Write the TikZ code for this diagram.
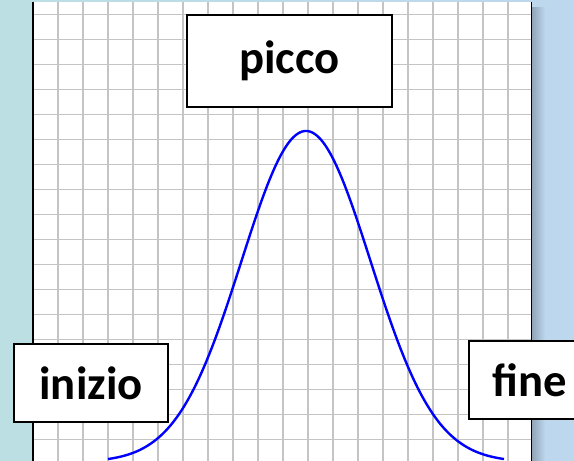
\documentclass[tikz,border=0pt]{standalone}
\usepackage{fontspec}
\setmainfont{Carlito}
\usetikzlibrary{positioning}

\definecolor{bgleft}{RGB}{188,223,227}
\definecolor{bgright}{RGB}{189,215,238}
\definecolor{gridgray}{RGB}{196,196,196}

\begin{document}
\begin{tikzpicture}[
  x=0.75pt, y=-0.75pt,
  every node/.style={font=\bfseries\fontsize{35}{42}\selectfont},
  lbl/.style={draw=black, line width=1.4pt, fill=white, inner sep=0pt},
  gridline/.style={draw=gridgray, line width=0.9pt},
  bell/.style={draw=blue, line width=1.8pt},
]
\useasboundingbox (0,0) rectangle (574,460);
\clip (0,0) rectangle (574,460);
% background and sheet
\shade[left color=bgleft, right color=bgright] (0,0) rectangle (574,460);
\shade[left color=black!25!bgright, right color=bgright] (531,8) rectangle (545,460);
\fill[white] (33,2) rectangle (531.5,470);
\foreach \gx in {58,83,...,508}
  \draw[gridline] (\gx,2) -- (\gx,470);
\foreach \gy in {14.3,39.3,...,464.3}
  \draw[gridline] (33,\gy) -- (531.5,\gy);
\draw[line width=1pt] (33,2) -- (33,470);
\draw[line width=1pt] (531.5,2) -- (531.5,470);
% curve
\draw[bell] plot[domain=108:504, samples=140, smooth]
  (\x, {462-331*exp(-((\x-306)/100)^2/0.834)});
% labels
\node[lbl, minimum width=153.75pt, minimum height=69pt] (picco) at (289.5,61) {picco};
\node[lbl, minimum width=115.5pt, minimum height=58.5pt] (inizio) at (91,383) {inizio};
\node[lbl, minimum width=91.5pt, minimum height=58.5pt] (fine) at (530,380) {fine};
\end{tikzpicture}
\end{document}
